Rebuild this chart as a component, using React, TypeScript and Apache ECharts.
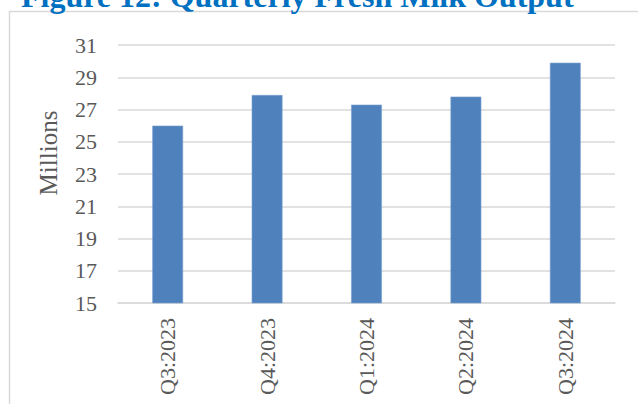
import React, { useEffect, useRef } from "react";
import * as echarts from "echarts";

const categories = ["Q3:2023", "Q4:2023", "Q1:2024", "Q2:2024", "Q3:2024"];
const values = [26.0, 27.9, 27.3, 27.8, 29.9];
const titleText = "Figure 12: Quarterly Fresh Milk Output";
const yAxisName = "Millions";

const FONT = '"Liberation Serif", "Times New Roman", serif';

export default function App() {
  const ref = useRef<HTMLDivElement>(null);
  useEffect(() => {
    if (!ref.current) return;
    const chart = echarts.init(ref.current, null, { renderer: "svg" });
    chart.setOption({
      animation: false,
      backgroundColor: "#ffffff",
      grid: { left: 118, right: 23, top: 45, bottom: 101, containLabel: false },
      xAxis: {
        type: "category",
        data: categories,
        axisLine: { show: true, lineStyle: { color: "#d9d9d9", width: 1.5 } },
        axisTick: { show: false },
        axisLabel: {
          rotate: 90,
          margin: 15,
          color: "#595959",
          fontFamily: FONT,
          fontSize: 22,
        },
      },
      yAxis: {
        type: "value",
        min: 15,
        max: 31,
        interval: 2,
        axisLine: { show: false },
        axisTick: { show: false },
        splitLine: { lineStyle: { color: "#d9d9d9", width: 1.5 } },
        axisLabel: {
          margin: 21,
          color: "#595959",
          fontFamily: FONT,
          fontSize: 22,
        },
      },
      series: [
        {
          type: "bar",
          data: values,
          barWidth: "31%",
          itemStyle: { color: "#4f81bd", borderColor: "#7ea3d1", borderWidth: 0.6 },
        },
      ],
      graphic: [
        {
          type: "rect",
          shape: { x: 9.5, y: 11.5, width: 700, height: 500 },
          style: { fill: "none", stroke: "#d9d9d9", lineWidth: 1.5 },
          silent: true,
        },
        {
          type: "text",
          x: 21,
          y: -4,
          style: {
            text: titleText,
            fill: "#0070c0",
            font: 'bold 32px "Liberation Serif", "Times New Roman", serif',
            verticalAlign: "middle",
          },
        },
        {
          type: "text",
          x: 48,
          y: 153,
          rotation: Math.PI / 2,
          style: {
            text: yAxisName,
            fill: "#595959",
            font: '25px "Liberation Serif", "Times New Roman", serif',
            align: "center",
            verticalAlign: "middle",
          },
        },
      ],
    });
    return () => chart.dispose();
  }, []);
  return (
    <div
      ref={ref}
      style={{ position: "fixed", left: 0, top: 0, width: 638, height: 404 }}
    />
  );
}
